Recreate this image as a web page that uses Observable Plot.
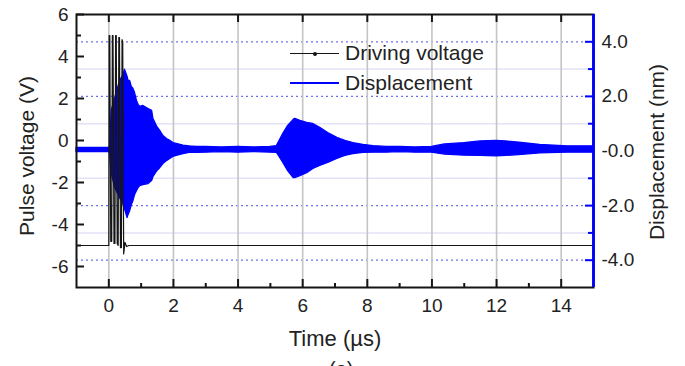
<!DOCTYPE html>
<html><head><meta charset="utf-8">
<script src="https://cdn.jsdelivr.net/npm/d3@7"></script>
<script src="https://cdn.jsdelivr.net/npm/@observablehq/plot@0.6"></script>
<style>
html,body{margin:0;padding:0;overflow:hidden;background:#fff;}
#wrap{position:relative;width:685px;height:366px;font-family:"Liberation Sans",Arial,sans-serif;color:#222;}
.leg{position:absolute;font-size:21px;line-height:1;white-space:nowrap;color:#222;}
.sw{position:absolute;}
</style></head><body><div id="wrap"></div>
<script>
// ---- ticks ----
const timeTicks = [0, 2, 4, 6, 8, 10, 12, 14];
const timeMinor = [1, 3, 5, 7, 9, 11, 13];
const voltTicks = [6, 4, 2, 0, -2, -4, -6];
const voltMinor = [5, 3, 1, -1, -3, -5];
const dispTicks = [4, 2, 0, -2, -4];
const dispTickLabels = ["4.0", "2.0", "-0.0", "-2.0", "-4.0"];
const dispMinor = [3, 1, -1, -3];
const seriesNames = ["Driving voltage", "Displacement"];

// ---- driving voltage (V) ----
const driveTime = [-1, 0, 0.01, 0.03, 0.06, 0.09, 0.11, 0.13, 0.16, 0.19, 0.21, 0.23, 0.26, 0.29, 0.31, 0.33, 0.36, 0.39, 0.41, 0.43, 0.46, 0.50, 0.55, 0.62, 15];
const driveVolt = [-5, -5, 5, 5, -4.8, -4.8, 5, 5, -4.9, -4.9, 5, 5, -4.9, -5, 4.9, 4.9, -5.1, -5.1, 4.8, 4.7, -5.4, -4.85, -5.05, -5, -5];

// ---- displacement envelope (nm) ----
const dispTime = [-1, -0.5, 0, 0.04, 0.09, 0.2, 0.35, 0.45, 0.5, 0.58, 0.61, 0.66, 0.71, 0.76, 0.81, 0.87, 0.92, 0.97, 1.07, 1.23, 1.34, 1.38, 1.5, 1.59, 1.69, 1.8, 1.9, 2.0, 2.1, 2.31, 2.5, 2.73, 3.0, 3.5, 4.0, 4.5, 5.0, 5.2, 5.25, 5.4, 5.55, 5.72, 5.77, 5.93, 6.14, 6.33, 6.54, 6.79, 7.07, 7.32, 7.57, 7.88, 8.19, 8.6, 9.0, 9.5, 10.0, 10.4, 11.0, 11.5, 12.0, 12.3, 12.7, 13.35, 14.2, 15];
const dispUpper = [0.11, 0.11, 0.11, 0.15, 1.47, 1.95, 2.57, 2.76, 2.98, 2.72, 2.57, 2.57, 2.35, 2.28, 2.13, 1.84, 1.69, 1.62, 1.65, 1.54, 1.47, 1.18, 0.88, 0.74, 0.55, 0.44, 0.37, 0.29, 0.26, 0.20, 0.17, 0.15, 0.15, 0.13, 0.15, 0.13, 0.15, 0.18, 0.29, 0.63, 0.92, 1.14, 1.18, 1.10, 1.03, 0.99, 0.85, 0.66, 0.48, 0.37, 0.29, 0.22, 0.18, 0.15, 0.15, 0.13, 0.15, 0.24, 0.29, 0.35, 0.37, 0.35, 0.31, 0.22, 0.17, 0.17];
const dispLower = [-0.04, -0.04, -0.04, -0.07, -0.85, -1.36, -1.73, -1.95, -2.13, -2.46, -2.35, -2.21, -1.99, -1.84, -1.62, -1.47, -1.36, -1.29, -1.25, -1.21, -1.10, -0.96, -0.74, -0.63, -0.48, -0.37, -0.29, -0.22, -0.18, -0.11, -0.07, -0.07, -0.06, -0.04, -0.06, -0.04, -0.06, -0.07, -0.15, -0.44, -0.74, -0.99, -0.99, -0.92, -0.81, -0.66, -0.55, -0.44, -0.29, -0.18, -0.11, -0.07, -0.06, -0.06, -0.04, -0.06, -0.06, -0.13, -0.17, -0.18, -0.20, -0.18, -0.15, -0.09, -0.06, -0.06];

// displacement axis [-5, 5] nm shares the frame with voltage [-7, 6] V
const toV = nm => -0.5 + 1.3 * nm;

const W = 685, H = 366, mL = 76, mR = 92, mT = 14, mB = 79;
const fh = H - mT - mB, fw = W - mL - mR;
const BLUE = "#0000ff", INK = "#151515";

const drive = driveTime.map((t, i) => ({t, v: driveVolt[i]}));
const disp = dispTime.map((t, i) => ({t, hi: toV(dispUpper[i]), lo: toV(dispLower[i])}));
const dispTickV = dispTicks.map(toV);

const plot = Plot.plot({
  width: W, height: H,
  marginLeft: mL, marginRight: mR, marginTop: mT, marginBottom: mB,
  x: {domain: [-1, 15]},
  y: {domain: [-7, 6]},
  style: {fontFamily: "Liberation Sans, Arial, sans-serif", fontSize: "19px", color: "#222", background: "#fff", overflow: "visible"},
  marks: [
    Plot.ruleY(dispMinor.map(toV), {stroke: "#e2e2f8", strokeWidth: 1.5}),
    Plot.ruleY(dispTickV, {stroke: "#7070ee", strokeWidth: 1.3, strokeDasharray: "2,3"}),
    Plot.ruleX(timeTicks, {stroke: "#c4c4c4", strokeWidth: 1.6}),
    Plot.areaY(disp, {x: "t", y1: "lo", y2: "hi", fill: BLUE, stroke: BLUE, strokeWidth: 1.3}),
    Plot.line(drive, {x: "t", y: "v", stroke: INK, strokeWidth: 1.2}),
    Plot.frame({stroke: INK, strokeWidth: 2}),
    Plot.ruleX([15], {stroke: BLUE, strokeWidth: 2.8}),
    // inward ticks
    Plot.ruleX(timeTicks, {insetTop: fh - 8, stroke: INK, strokeWidth: 2}),
    Plot.ruleX(timeMinor, {insetTop: fh - 4, stroke: INK, strokeWidth: 2}),
    Plot.ruleX(timeTicks, {insetBottom: fh - 8, stroke: INK, strokeWidth: 2}),
    Plot.ruleY(voltTicks, {insetRight: fw - 8, stroke: INK, strokeWidth: 2}),
    Plot.ruleY(voltMinor, {insetRight: fw - 5, stroke: INK, strokeWidth: 2}),
    Plot.ruleY(dispTickV, {insetLeft: fw - 8, stroke: BLUE, strokeWidth: 2}),
    Plot.ruleY(dispMinor.map(toV), {insetLeft: fw - 5, stroke: BLUE, strokeWidth: 2}),
    // labels
    Plot.axisX(timeTicks, {tickSize: 0, tickPadding: 11, label: null, fontSize: 19, tickFormat: d => String(d)}),
    Plot.axisY(voltTicks, {anchor: "left", tickSize: 0, tickPadding: 8, label: null, fontSize: 19, tickFormat: d => String(d)}),
    Plot.axisY(dispTickV, {anchor: "right", tickSize: 0, tickPadding: 8, label: null, fontSize: 19,
      tickFormat: d => dispTickLabels[dispTickV.indexOf(d)]}),
    Plot.text(["Time (\u00b5s)"], {frameAnchor: "bottom", dy: 58, fontSize: 22, fill: "#222"}),
    Plot.text(["Pulse voltage (V)"], {frameAnchor: "left", textAnchor: "middle", dx: -49, dy: 5, rotate: -90, fontSize: 21, fill: "#222"}),
    Plot.text(["Displacement (nm)"], {frameAnchor: "right", textAnchor: "middle", dx: 64, dy: 1, rotate: -90, fontSize: 21, fill: "#222"})
  ]
});

const wrap = document.getElementById("wrap");
wrap.appendChild(plot);

// legend
function add(html) { wrap.insertAdjacentHTML("beforeend", html); }
add(`<div class="sw" style="left:290px;top:52.5px;width:49px;height:1.6px;background:${INK}"></div>`);
add(`<div class="sw" style="left:313px;top:51.5px;width:4px;height:4px;border-radius:2px;background:${INK}"></div>`);
add(`<div class="leg" style="left:345px;top:42px">${seriesNames[0]}</div>`);
add(`<div class="sw" style="left:290px;top:81.5px;width:49px;height:2.6px;background:${BLUE}"></div>`);
add(`<div class="leg" style="left:345px;top:72px">${seriesNames[1]}</div>`);
add(`<div class="leg" style="left:329px;top:359px;font-size:20px">(a)</div>`);
</script>
</body></html>
